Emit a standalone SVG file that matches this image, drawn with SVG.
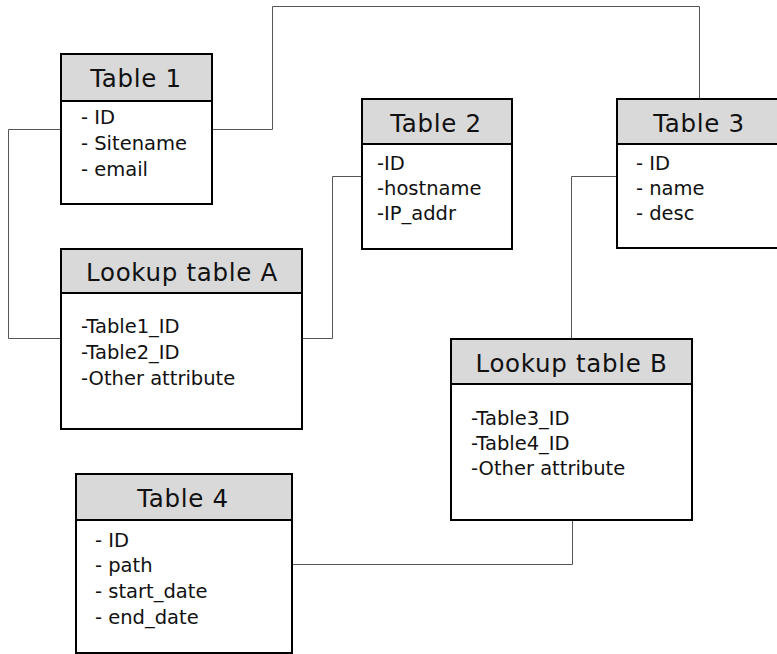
<svg xmlns="http://www.w3.org/2000/svg" width="777" height="654" viewBox="0 0 777 654">
<style>
.box{fill:#fff;stroke:#000;stroke-width:2}
.hdr{fill:#d9d9d9;stroke:#000;stroke-width:2}
.conn{fill:none;stroke:#555;stroke-width:1}
.title{font-family:"DejaVu Sans",sans-serif;font-size:24.5px;letter-spacing:0.7px;fill:#111;text-anchor:middle}
.attr{font-family:"DejaVu Sans",sans-serif;font-size:19.5px;fill:#111}
</style>
<rect width="777" height="654" fill="#fff"/>
<g id="connectors">
<path class="conn" d="M61 129.5 H8.5 V338.5 H61"/>
<path class="conn" d="M212 129.5 H272.5 V6.5 H699.5 V99"/>
<path class="conn" d="M302 338.5 H332.5 V176.5 H362"/>
<path class="conn" d="M617 176.5 H571.5 V339"/>
<path class="conn" d="M572.5 520 V564.5 H292"/>
</g>
<g id="table1">
<rect class="box" x="61" y="54" width="151" height="150"/>
<rect class="hdr" x="61" y="54" width="151" height="47"/>
<text class="title" x="136" y="87">Table 1</text>
<text class="attr" x="81" y="124">- ID</text>
<text class="attr" x="81" y="150">- Sitename</text>
<text class="attr" x="81" y="176">- email</text>
</g>
<g id="table2">
<rect class="box" x="362" y="99" width="150" height="150"/>
<rect class="hdr" x="362" y="99" width="150" height="45"/>
<text class="title" x="436" y="132">Table 2</text>
<text class="attr" x="377" y="170">-ID</text>
<text class="attr" x="377" y="195">-hostname</text>
<text class="attr" x="377" y="220">-IP_addr</text>
</g>
<g id="table3">
<rect class="box" x="617" y="99" width="170" height="149"/>
<rect class="hdr" x="617" y="99" width="170" height="45"/>
<text class="title" x="699" y="132">Table 3</text>
<text class="attr" x="636" y="170">- ID</text>
<text class="attr" x="636" y="195">- name</text>
<text class="attr" x="636" y="220">- desc</text>
</g>
<g id="lookupA">
<rect class="box" x="61" y="249" width="241" height="180"/>
<rect class="hdr" x="61" y="249" width="241" height="44"/>
<text class="title" x="182" y="281">Lookup table A</text>
<text class="attr" x="81" y="333">-Table1_ID</text>
<text class="attr" x="81" y="359">-Table2_ID</text>
<text class="attr" x="81" y="385">-Other attribute</text>
</g>
<g id="lookupB">
<rect class="box" x="451" y="339" width="241" height="181"/>
<rect class="hdr" x="451" y="339" width="241" height="45"/>
<text class="title" x="571.5" y="372">Lookup table B</text>
<text class="attr" x="471" y="425">-Table3_ID</text>
<text class="attr" x="471" y="450">-Table4_ID</text>
<text class="attr" x="471" y="475">-Other attribute</text>
</g>
<g id="table4">
<rect class="box" x="76" y="474" width="216" height="179"/>
<rect class="hdr" x="76" y="474" width="216" height="46"/>
<text class="title" x="183" y="507">Table 4</text>
<text class="attr" x="95" y="547">- ID</text>
<text class="attr" x="95" y="572">- path</text>
<text class="attr" x="95" y="598">- start_date</text>
<text class="attr" x="95" y="624">- end_date</text>
</g>
</svg>
